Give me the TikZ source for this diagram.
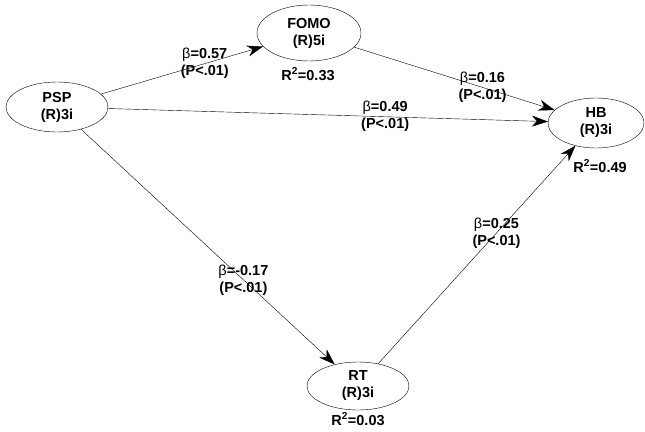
\documentclass[tikz,border=0pt]{standalone}
\usepackage{fontspec}
\setmainfont{Liberation Sans}
\usetikzlibrary{arrows.meta,shapes.geometric}

\newcommand{\bt}{{\mdseries β}}

\begin{document}
\begin{tikzpicture}[
  x=1pt, y=-1pt,
  font=\fontsize{14.5}{17}\selectfont\bfseries,
  lv/.style={draw, ellipse, thin, align=center, inner sep=0pt,
             minimum width=102pt, minimum height=50pt},
  rsq/.style={inner sep=1pt},
  lbl/.style={align=center, inner sep=0pt},
  arr/.style={-{Stealth[length=16pt, width=11pt, inset=5pt]}, thin},
]
\useasboundingbox (0,0) rectangle (645,431);

% The latent variables.
\node[lv] (PSP) at (57,107) {PSP\\(R)3i};
\node[lv, minimum width=104pt, minimum height=56pt] (FOMO) at (309,33) {FOMO\\(R)5i};
\node[lv, minimum width=96pt] (HB) at (596,123) {HB\\(R)3i};
\node[lv, minimum height=48pt] (RT) at (358,386) {RT\\(R)3i};

\node[rsq] (rFOMO) at (308,74) {R\textsuperscript{2}=0.33};
\node[rsq] (rHB) at (600,166) {R\textsuperscript{2}=0.49};
\node[rsq] (rRT) at (358,419) {R\textsuperscript{2}=0.03};

% The paths.
\draw[arr] (PSP) -- node[lbl, pos=0.64]{\bt=0.57\\(P<.01)} (FOMO);
\draw[arr] (PSP) -- node[lbl, pos=0.63]{\bt=0.49\\(P<.01)} (HB);
\draw[arr] (FOMO) -- node[lbl, pos=0.64]{\bt=0.16\\(P<.01)} (HB);
\draw[arr] (PSP) -- node[lbl, pos=0.64]{\bt=-0.17\\(P<.01)} (RT);
\draw[arr] (RT) -- node[lbl, pos=0.6]{\bt=0.25\\(P<.01)} (HB);

\end{tikzpicture}
\end{document}
